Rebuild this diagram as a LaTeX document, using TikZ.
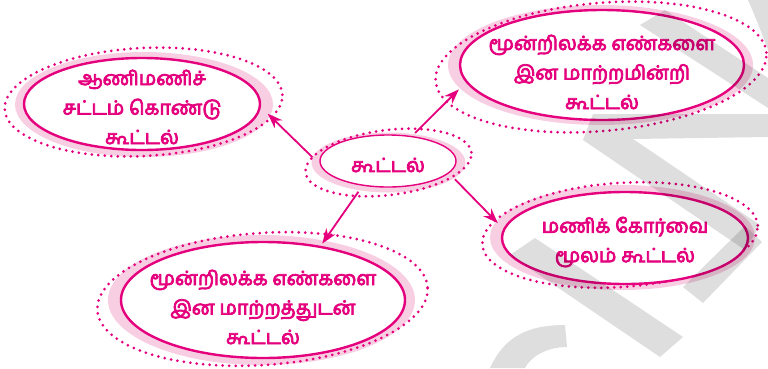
\documentclass[tikz,border=0pt]{standalone}
\usepackage{fontspec}
\newfontfamily\tamilfont[Script=Tamil, FakeBold=4]{Hind Madurai}
\usetikzlibrary{shapes.geometric, arrows.meta, backgrounds}
\definecolor{mag}{HTML}{E5007D}
\definecolor{ringpink}{HTML}{F8CFE2}

\begin{document}
\begin{tikzpicture}[x=1pt,y=-1pt,
  bubble/.style={ellipse, draw=mag, line width=2.4pt, fill=white, inner sep=0pt, outer sep=0pt},
  txt/.style={text=mag, align=center, font=\tamilfont\fontsize{19.5}{29.5}\selectfont},
  dots/.style={draw=mag, line width=3pt, line cap=round, dash pattern=on 0pt off 6.5pt},
  link/.style={draw=mag, line width=1.8pt, -{Stealth[length=15pt,width=11pt]}},
  wm/.style={fill=black, fill opacity=0.13}]
\useasboundingbox (0,0) rectangle (768,368);

\node[bubble, line width=1.4pt, minimum width=136pt, minimum height=52pt,
  label={[txt, yshift=-4pt]center:{கூட்டல்}}] (sum) at (388,161) {};
\node[bubble, minimum width=236pt, minimum height=92pt,
  label={[txt, yshift=-3pt]center:{ஆணிமணிச்\\சட்டம் கொண்டு\\கூட்டல்}}] (abacus) at (142,104) {};
\node[bubble, minimum width=284pt, minimum height=110pt,
  label={[txt, yshift=-7pt]center:{மூன்றிலக்க எண்களை\\இன மாற்றமின்றி\\கூட்டல்}}] (nocarry) at (602,65) {};
\node[bubble, minimum width=284pt, minimum height=116pt,
  label={[txt, yshift=-7pt]center:{மூன்றிலக்க எண்களை\\இன மாற்றத்துடன்\\கூட்டல்}}] (carry) at (263,300) {};
\node[bubble, minimum width=246pt, minimum height=92pt,
  label={[txt, yshift=-4pt]center:{மணிக் கோர்வை\\மூலம் கூட்டல்}}] (beads) at (625,238) {};

\begin{scope}[on background layer]
\fill[ringpink] (388.5,162.5) ellipse [x radius=77pt, y radius=30pt];
\fill[ringpink] (144,104.5) ellipse [x radius=129pt, y radius=52.5pt];
\fill[ringpink] (600.5,65) ellipse [x radius=152.5pt, y radius=60pt];
\fill[ringpink] (261.5,300) ellipse [x radius=153.5pt, y radius=65pt];
\fill[ringpink] (622.5,237.5) ellipse [x radius=132.5pt, y radius=52.5pt];
\draw[dots] (388.5,162.5) ellipse [x radius=83.5pt, y radius=32.5pt, rotate=7];
\draw[dots] (143.5,102) ellipse [x radius=139pt, y radius=54pt, rotate=3];
\draw[dots] (601,67) ellipse [x radius=166pt, y radius=64pt, rotate=5];
\draw[dots] (262.5,299) ellipse [x radius=165.5pt, y radius=66pt, rotate=4];
\draw[dots] (620,235) ellipse [x radius=138pt, y radius=52pt, rotate=4];
\end{scope}

\draw[link, shorten <=12pt, shorten >=11pt] (sum.184) -- (abacus.-1);
\draw[link, shorten <=5pt, shorten >=11pt] (sum.46) -- (nocarry.187);
\draw[link, shorten <=8pt, shorten >=4pt] (sum.224) -- (carry.43);
\draw[link, shorten <=9pt, shorten >=9pt] (sum.-11) -- (beads.176);

\fill[wm] (748,0) .. controls (756,18) and (762,34) .. (768,50) -- (768,0) -- cycle;
\fill[wm] (640,25) -- (665,10) -- (768,78) -- (768,108) -- cycle;
\fill[wm] (593,114) -- (768,114) -- (768,137) -- (633,139) -- (760,225) -- (745,250) -- (583,140) -- cycle;
\fill[wm] (683,287) -- (703,303) -- (762,242) -- (745,226) -- cycle;
\fill[wm] (510,255) -- (535,238) -- (683,337) -- (660,357) -- cycle;
\fill[wm] (490,368) .. controls (505,335) and (530,325) .. (565,325) -- (567,347) .. controls (545,347) and (530,358) .. (525,368) -- cycle;
\end{tikzpicture}
\end{document}
